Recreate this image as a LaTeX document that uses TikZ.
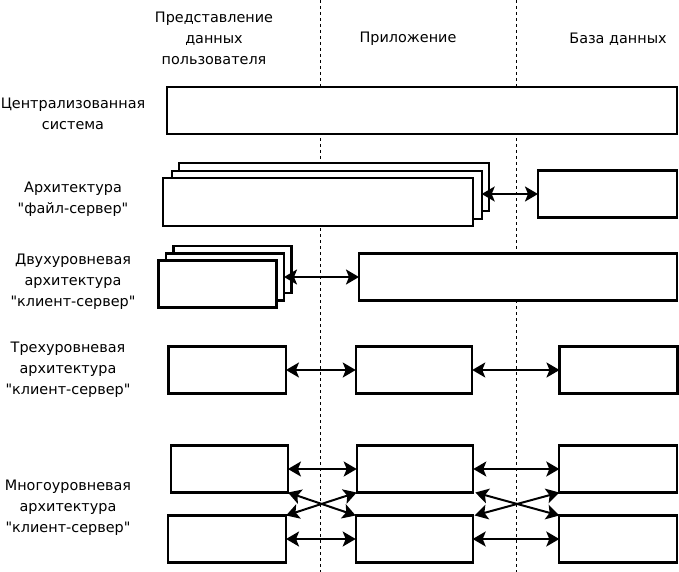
\documentclass[tikz,border=0pt]{standalone}
\usepackage{fontspec}
\setmainfont{DejaVu Sans}[Ligatures=TeXOff]
\usetikzlibrary{arrows.meta}
\begin{document}
\begin{tikzpicture}[x=1pt,y=-1pt,
 box/.style={draw,line width=2.2pt,fill=white,minimum height=47pt,inner sep=0pt,outer sep=0pt},
 lbl/.style={align=center,font=\fontsize{14.4}{21}\selectfont,inner sep=0pt},
 arr/.style={line width=2pt,{Stealth[length=13pt,width=15pt,inset=3pt]}-{Stealth[length=13pt,width=15pt,inset=3pt]}},
 divider/.style={line width=0.9pt,dash pattern=on 3pt off 3pt}]
\useasboundingbox (0,0) rectangle (679,572);
% dividers
\coordinate (d1t) at (320.5,0); \coordinate (d1b) at (320.5,572);
\coordinate (d2t) at (516.5,0); \coordinate (d2b) at (516.5,572);
\draw[divider] (d1t) -- (d1b);
\draw[divider] (d2t) -- (d2b);
% headers
\node[lbl] (h1) at (214,38.5) {Представление\\данных\\пользователя};
\node[lbl] (h2) at (408,39) {Приложение};
\node[lbl] (h3) at (618,39) {База данных};
% row labels
\node[lbl] (l1) at (73,114) {Централизованная\\система};
\node[lbl] (l2) at (73,199) {Архитектура\\"файл-сервер"};
\node[lbl] (l3) at (73,281.5) {Двухуровневая\\архитектура\\"клиент-сервер"};
\node[lbl] (l4) at (68,370) {Трехуровневая\\архитектура\\"клиент-сервер"};
\node[lbl] (l5) at (68,508) {Многоуровневая\\архитектура\\"клиент-сервер"};
% centralized
\node[box,minimum width=510pt] (cs) at (422,110.5) {};
% file-server
\node[box,minimum width=310pt,minimum height=48pt] (fs3) at (334.3,187) {};
\node[box,minimum width=310pt,minimum height=48pt] (fs2) at (326.7,195) {};
\node[box,minimum width=310pt,minimum height=48pt] (fs1) at (318.2,202) {};
\node[box,minimum width=139pt] (fsd) at (607.5,194) {};
\draw[arr] (fs2.east |- fsd.west) -- (fsd.west);
% two-tier
\node[box,minimum width=118pt] (tt3) at (232.5,269.5) {};
\node[box,minimum width=118pt] (tt2) at (225,277) {};
\node[box,minimum width=118pt] (tt1) at (217.5,284) {};
\node[box,minimum width=318pt] (ttr) at (518,277) {};
\draw[arr] (tt2.east |- ttr.west) -- (ttr.west);
% three-tier
\node[box,minimum width=117.5pt] (tl) at (227.2,370) {};
\node[box,minimum width=116.5pt] (tm) at (414,370) {};
\node[box,minimum width=118pt] (tr) at (618.5,370) {};
\draw[arr] (tl.east) -- (tm.west);
\draw[arr] (tm.east) -- (tr.west);
% multi-tier
\node[box,minimum width=117.3pt] (ml1) at (229.3,469) {};
\node[box,minimum width=116.6pt] (mm1) at (415,469) {};
\node[box,minimum width=118pt] (mr1) at (618.3,469) {};
\node[box,minimum width=117.7pt] (ml2) at (227.2,539) {};
\node[box,minimum width=117pt] (mm2) at (414.2,539) {};
\node[box,minimum width=118pt] (mr2) at (618.3,539) {};
\draw[arr] (ml1.east) -- (mm1.west);
\draw[arr] (mm1.east) -- (mr1.west);
\draw[arr] (ml2.east) -- (mm2.west);
\draw[arr] (mm2.east) -- (mr2.west);
\draw[arr] (ml1.south east) -- (mm2.north west);
\draw[arr] (ml2.north east) -- (mm1.south west);
\draw[arr] ([xshift=2pt]mm1.south east) -- (mr2.north west);
\draw[arr] ([xshift=2pt]mm2.north east) -- (mr1.south west);
\end{tikzpicture}
\end{document}
